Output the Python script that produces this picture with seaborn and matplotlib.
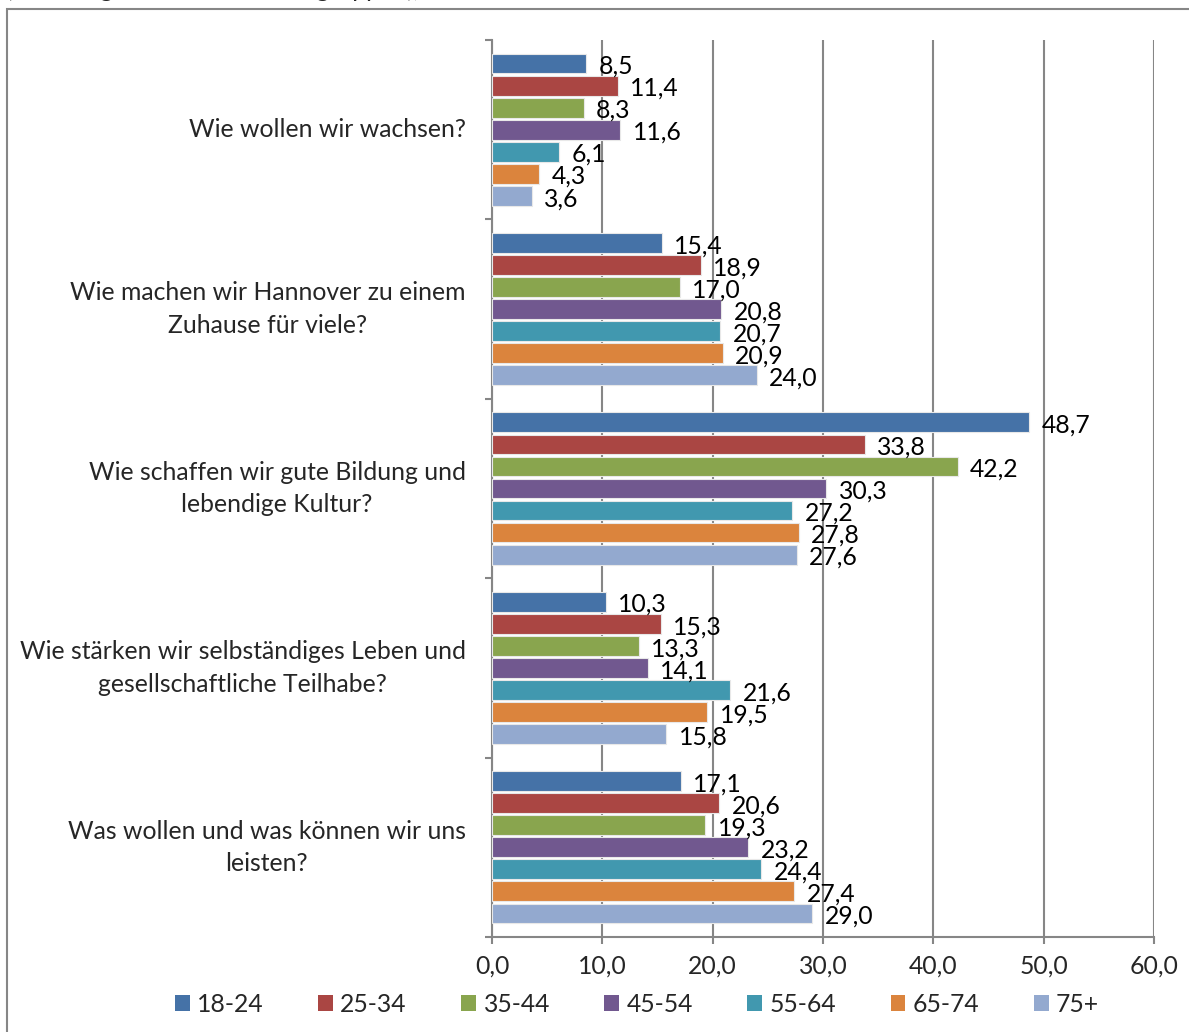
import numpy as np
import pandas as pd
import seaborn as sns
import matplotlib.pyplot as plt
from matplotlib.patches import Rectangle, Patch

# Questions (y categories) and age groups (hue)
fragen = [
    "Wie wollen wir wachsen?",
    "Wie machen wir Hannover zu einem\nZuhause für viele?",
    "Wie schaffen wir gute Bildung und\nlebendige Kultur?",
    "Wie stärken wir selbständiges Leben und\ngesellschaftliche Teilhabe?",
    "Was wollen und was können wir uns\nleisten?",
]
altersgruppen = ["18-24", "25-34", "35-44", "45-54", "55-64", "65-74", "75+"]

# Values per question, one entry per age group (in %)
wachsen = [8.5, 11.4, 8.3, 11.6, 6.1, 4.3, 3.6]
zuhause = [15.4, 18.9, 17.0, 20.8, 20.7, 20.9, 24.0]
bildung = [48.7, 33.8, 42.2, 30.3, 27.2, 27.8, 27.6]
teilhabe = [10.3, 15.3, 13.3, 14.1, 21.6, 19.5, 15.8]
leisten = [17.1, 20.6, 19.3, 23.2, 24.4, 27.4, 29.0]

x_ticks = [0, 10, 20, 30, 40, 50, 60]

farben = ["#4572A7", "#AA4643", "#89A54E", "#71588F", "#4198AF", "#DB843D", "#93A9CF"]

werte = [wachsen, zuhause, bildung, teilhabe, leisten]
df = pd.DataFrame(
    [(f, a, v) for f, reihe in zip(fragen, werte) for a, v in zip(altersgruppen, reihe)],
    columns=["Frage", "Alter", "Wert"],
)

sns.set_theme(style="white")
plt.rcParams["font.family"] = ["Lato", "DejaVu Sans"]
FS = 17.8
GRID = "#868686"

fig = plt.figure(figsize=(11.89, 10.32), dpi=100)
ax = fig.add_axes([492 / 1189, 1 - 937 / 1032, (1154 - 492) / 1189, (937 - 40) / 1032])

sns.barplot(
    data=df, y="Frage", x="Wert", hue="Alter", orient="h",
    order=fragen, hue_order=altersgruppen, palette=farben,
    width=0.86, gap=0.1, saturation=1, edgecolor="#e8e8e8", linewidth=0.8,
    legend=False, ax=ax, zorder=3,
)

# Value labels to the right of each bar
for cont in ax.containers:
    for bar in cont:
        w = bar.get_width()
        ax.annotate(
            f"{w:.1f}".replace(".", ","),
            (w, bar.get_y() + bar.get_height() / 2),
            xytext=(9, -2), textcoords="offset points",
            va="center", ha="left", fontsize=FS, color="black", zorder=4,
        )

ax.set_xlim(0, 60)
ax.set_ylim(len(fragen) - 0.5, -0.5)
ax.set_xticks(x_ticks)
ax.set_xticklabels([f"{t:.1f}".replace(".", ",") for t in x_ticks], fontsize=FS)
ax.set_xlabel("")
ax.set_ylabel("")

ax.grid(axis="x", color=GRID, linewidth=1.5, zorder=0)
ax.set_axisbelow(True)
for s in ["top", "right"]:
    ax.spines[s].set_visible(False)
for s in ["left", "bottom"]:
    ax.spines[s].set_color(GRID)
    ax.spines[s].set_linewidth(1.5)

ax.tick_params(axis="x", which="major", direction="out", length=5, width=1.5,
               color=GRID, pad=8, bottom=True)
ax.tick_params(axis="y", which="major", length=0, pad=19)
ax.set_yticks(np.arange(-0.5, len(fragen), 1.0), minor=True)
ax.tick_params(axis="y", which="minor", direction="out", length=5, width=1.5,
               color=GRID, left=True)
for lab in ax.get_yticklabels():
    lab.set_fontsize(FS)
    lab.set_multialignment("center")
    lab.set_linespacing(1.5)
    lab.set_verticalalignment("center")

# Chart frame
fig.add_artist(Rectangle((7 / 1189, -0.1), 1.2, 1.1 - 9 / 1032, transform=fig.transFigure,
                         fill=False, edgecolor=GRID, linewidth=1.5))
fig.text(6 / 1189, 1 + 11 / 1032, "(Nennungen nach den Altersgruppen),",
         fontsize=FS, ha="left", va="center")

handles = [Patch(facecolor=c, edgecolor="none") for c in farben]
fig.legend(handles, altersgruppen, loc="center", bbox_to_anchor=(637 / 1189, 1 - 1004 / 1032),
           ncol=7, frameon=False, fontsize=FS, handlelength=0.6, handleheight=0.6,
           handletextpad=0.3, columnspacing=2.2)

fig.savefig("out.png", dpi=100)
